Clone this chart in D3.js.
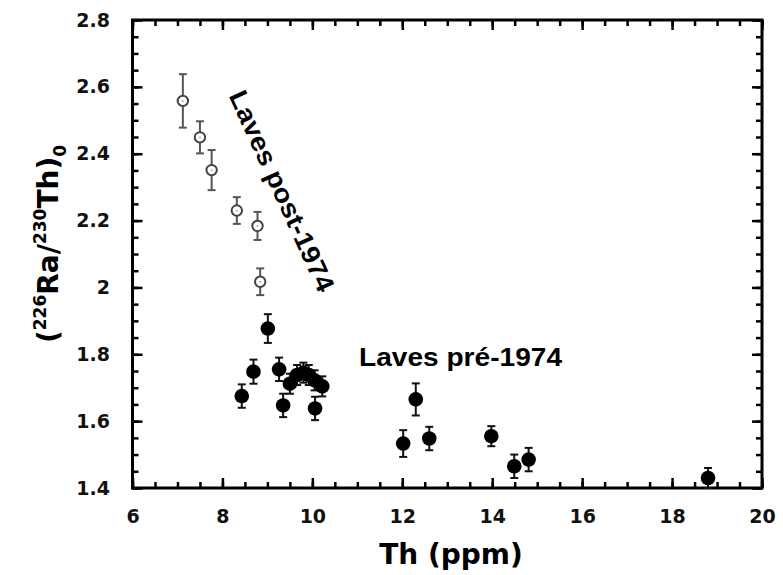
<!DOCTYPE html>
<html><head><meta charset="utf-8">
<script src="https://cdn.jsdelivr.net/npm/d3@7"></script>
<style>
body{margin:0;background:#fff;}
svg{display:block;}
.tick text{font-family:"DejaVu Sans",sans-serif;font-weight:bold;font-size:19px;fill:#111;}
</style></head>
<body>
<svg id="c" width="783" height="575"></svg>
<script>
// ---- data ----
const xTicks = [6, 8, 10, 12, 14, 16, 18, 20];
const yTicks = [1.4, 1.6, 1.8, 2.0, 2.2, 2.4, 2.6, 2.8];

// Post-1974 lavas (open circles)
const postTh  = [7.12, 7.50, 7.76, 8.32, 8.78, 8.84];
const postRa  = [2.558, 2.449, 2.351, 2.230, 2.184, 2.017];
const postErr = [0.080, 0.048, 0.060, 0.040, 0.042, 0.040];

// Pre-1974 lavas (filled circles)
const preTh  = [9.01, 8.69, 8.43, 9.26, 9.35, 10.06, 9.50, 9.66, 9.80, 9.92, 10.05, 10.22, 12.02, 12.30, 12.60, 13.98, 14.49, 14.81, 18.80];
const preRa  = [1.877, 1.748, 1.675, 1.755, 1.647, 1.638, 1.712, 1.738, 1.745, 1.738, 1.722, 1.704, 1.533, 1.665, 1.548, 1.555, 1.465, 1.485, 1.430];
const preErr = [0.043, 0.036, 0.035, 0.035, 0.035, 0.035, 0.030, 0.030, 0.030, 0.030, 0.030, 0.030, 0.040, 0.048, 0.035, 0.030, 0.035, 0.035, 0.030];

const labelPost = "Laves post-1974";
const labelPre = "Laves pré-1974";

// ---- drawing ----
const svg = d3.select("#c");
const x = d3.scaleLinear().domain([6, 20]).range([132.5, 762]);
const y = d3.scaleLinear().domain([1.4, 2.8]).range([488, 20]);
const xMinor = d3.range(6, 20.001, 0.5);
const yMinor = d3.range(1.4, 2.8001, 0.05);
const font = '"Liberation Sans",Arial,sans-serif';
const font2 = '"DejaVu Sans",sans-serif';

function styleAxis(g){
  g.select(".domain").remove();
  g.selectAll(".tick line").attr("stroke","#000").attr("stroke-width",2.5);
}
// minor ticks (inward)
svg.append("g").attr("transform",`translate(0,${y(1.4)})`)
  .call(d3.axisBottom(x).tickValues(xMinor).tickSize(-6).tickFormat("")).call(styleAxis);
svg.append("g").attr("transform",`translate(0,${y(2.8)})`)
  .call(d3.axisTop(x).tickValues(xMinor).tickSize(-6).tickFormat("")).call(styleAxis);
svg.append("g").attr("transform",`translate(${x(6)},0)`)
  .call(d3.axisLeft(y).tickValues(yMinor).tickSize(-6).tickFormat("")).call(styleAxis);
svg.append("g").attr("transform",`translate(${x(20)},0)`)
  .call(d3.axisRight(y).tickValues(yMinor).tickSize(-6).tickFormat("")).call(styleAxis);
// major ticks with labels
svg.append("g").attr("transform",`translate(0,${y(1.4)})`)
  .call(d3.axisBottom(x).tickValues(xTicks).tickSize(-10).tickPadding(22).tickFormat(d3.format("d"))).call(styleAxis);
svg.append("g").attr("transform",`translate(0,${y(2.8)})`)
  .call(d3.axisTop(x).tickValues(xTicks).tickSize(-10).tickFormat("")).call(styleAxis);
svg.append("g").attr("transform",`translate(${x(6)},0)`)
  .call(d3.axisLeft(y).tickValues(yTicks).tickSize(-10).tickPadding(22.5).tickFormat(d => d === 2 ? "2" : d3.format(".1f")(d))).call(styleAxis);
svg.append("g").attr("transform",`translate(${x(20)},0)`)
  .call(d3.axisRight(y).tickValues(yTicks).tickSize(-10).tickFormat("")).call(styleAxis);

// frame
svg.append("rect").attr("x",x(6)).attr("y",y(2.8)).attr("width",x(20)-x(6)).attr("height",y(1.4)-y(2.8))
  .attr("fill","none").attr("stroke","#000").attr("stroke-width",3);

// error bars helper
function errorBars(th, ra, err, color, w){
  const g = svg.append("g").attr("stroke",color).attr("stroke-width",w);
  th.forEach((t,i)=>{
    const cx = x(t), y1 = y(ra[i]+err[i]), y2 = y(ra[i]-err[i]);
    g.append("line").attr("x1",cx).attr("x2",cx).attr("y1",y1).attr("y2",y2);
    g.append("line").attr("x1",cx-4).attr("x2",cx+4).attr("y1",y1).attr("y2",y1);
    g.append("line").attr("x1",cx-4).attr("x2",cx+4).attr("y1",y2).attr("y2",y2);
  });
}
errorBars(postTh, postRa, postErr, "#555", 2);
errorBars(preTh, preRa, preErr, "#111", 2);

// open circles
const post = postTh.map((t,i)=>({t, r: postRa[i]}));
svg.append("g").selectAll("circle").data(post).join("circle")
  .attr("cx",d=>x(d.t)).attr("cy",d=>y(d.r)).attr("r",5.2)
  .attr("fill","#fff").attr("stroke","#444").attr("stroke-width",2);
svg.append("g").selectAll("circle").data(post).join("circle")
  .attr("cx",d=>x(d.t)).attr("cy",d=>y(d.r)).attr("r",0.9).attr("fill","#999");

// filled circles
const pre = preTh.map((t,i)=>({t, r: preRa[i]}));
svg.append("g").selectAll("circle").data(pre).join("circle")
  .attr("cx",d=>x(d.t)).attr("cy",d=>y(d.r)).attr("r",7.3).attr("fill","#000");

// annotations
svg.append("text").attr("transform","translate(282,191) rotate(65.5)")
  .attr("text-anchor","middle").attr("dy","0.35em")
  .attr("font-family",font).attr("font-size",26).attr("font-weight","bold")
  .attr("textLength",218).attr("lengthAdjust","spacingAndGlyphs").text(labelPost);
svg.append("text").attr("x",359).attr("y",366)
  .attr("font-family",font).attr("font-size",26).attr("font-weight","bold")
  .attr("textLength",203).attr("lengthAdjust","spacingAndGlyphs").text(labelPre);

// axis titles
svg.append("text").attr("x",451).attr("y",564).attr("text-anchor","middle")
  .attr("font-family",font2).attr("font-size",28).attr("font-weight","bold").text("Th (ppm)");

const yt = svg.append("text").attr("transform","translate(58,244) rotate(-90)").attr("text-anchor","middle")
  .attr("font-family",font2).attr("font-size",28).attr("font-weight","bold");
yt.append("tspan").text("(");
yt.append("tspan").attr("font-size",17).attr("dy",-12).text("226");
yt.append("tspan").attr("dy",12).text("Ra/");
yt.append("tspan").attr("font-size",17).attr("dy",-12).text("230");
yt.append("tspan").attr("dy",12).text("Th)");
yt.append("tspan").attr("font-size",17).attr("dy",8).text("0");
</script>
</body></html>
